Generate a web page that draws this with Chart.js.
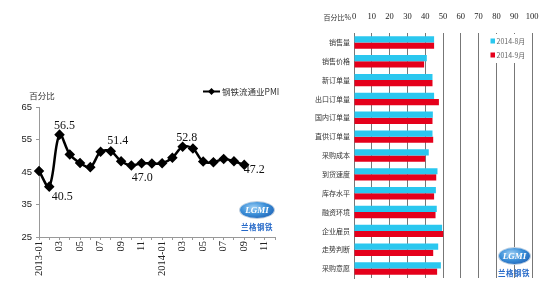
<!DOCTYPE html>
<html><head><meta charset="utf-8">
<script src="https://cdn.jsdelivr.net/npm/chart.js@4.4.1/dist/chart.umd.min.js"></script>
<style>
html,body{margin:0;padding:0;background:#fff;width:550px;height:300px;overflow:hidden;}
#left{position:absolute;left:0;top:0;width:290px;height:300px;}
#right{position:absolute;left:300px;top:0;width:250px;height:300px;}
.oval{position:absolute;border-radius:50%;background:radial-gradient(ellipse at 40% 35%,#9fd0f5 0%,#3b8fd8 45%,#1450a8 100%);color:#fff;font:italic bold 9px "Liberation Serif";text-align:center;box-shadow:0 0 0 1px #bcd;}
.brand{position:absolute;color:#2468c8;font:bold 7.5px "Noto Sans CJK SC";letter-spacing:0.5px;white-space:nowrap;}
</style></head><body>
<div id="left"><canvas id="c1" width="290" height="300"></canvas></div>
<div id="right"><canvas id="c2" width="250" height="300"></canvas></div>
<div class="oval" style="left:240px;top:202px;width:34px;height:16px;line-height:16px;">LGMI</div>
<div class="brand" style="left:241px;top:221px;">兰格钢铁</div>
<div class="oval" style="left:499px;top:248px;width:31px;height:16px;line-height:16px;">LGMI</div>
<div class="brand" style="left:498px;top:267px;">兰格钢铁</div>
<script>
// ---------- Data: left line chart ----------
const months = ['2013-01','2013-02','2013-03','2013-04','2013-05','2013-06','2013-07','2013-08','2013-09','2013-10','2013-11','2013-12',
                '2014-01','2014-02','2014-03','2014-04','2014-05','2014-06','2014-07','2014-08','2014-09','2014-10','2014-11','2014-12'];
const pmiLabel = '钢铁流通业PMI';
const pmiValues = [45.3,40.5,56.5,50.4,47.8,46.5,51.2,51.4,48.3,47.0,47.7,47.6,47.7,49.4,52.8,52.2,48.2,48.0,49.0,48.3,47.2];
const labeledPoints = [1,2,7,9,14,20];
const yTicksLeft = [25,35,45,55,65];
const leftAxisTitle = '百分比';

// ---------- Data: right bar chart ----------
const categories = ['销售量','销售价格','新订单量','出口订单量','国内订单量','直供订单量','采购成本','到货速度','库存水平','融资环境','企业雇员','走势判断','采购意愿'];
const seriesNames = ['2014-8月','2014-9月'];
const augValues = [45.0,40.9,44.1,45.0,44.3,44.1,42.0,46.9,46.0,46.5,49.5,47.3,48.8];
const sepValues = [45.0,39.4,44.1,47.7,44.1,44.5,40.0,46.2,45.0,45.8,50.1,44.5,46.7];
const xTicksRight = [0,10,20,30,40,50,60,70,80,90,100];
const rightAxisTitle = '百分比%';

// ---------- Left chart ----------
const leftDeco = {
  id:'leftDeco',
  afterDatasetsDraw(chart){
    const ctx = chart.ctx, meta = chart.getDatasetMeta(0), ca = chart.chartArea;
    const off = {1:[13,10],2:[5,-9],7:[7,-10],9:[11,12],14:[4,-9],20:[10,5]};
    ctx.save();
    ctx.font = '12px "Liberation Serif"';
    ctx.fillStyle = '#111';
    ctx.textAlign = 'center';
    ctx.textBaseline = 'middle';
    labeledPoints.forEach(i => {
      const p = meta.data[i], o = off[i] || [0,-10];
      ctx.fillText(pmiValues[i].toFixed(1), p.x + o[0], p.y + o[1]);
    });
    // axis title
    ctx.font = '8.5px "Noto Sans CJK SC"';
    ctx.fillStyle = '#333';
    ctx.fillText(leftAxisTitle, ca.left + 3, ca.top - 11);
    // legend
    const lx = ca.left + 164, ly = ca.top - 15.5;
    ctx.strokeStyle = '#000';
    ctx.lineWidth = 2;
    ctx.beginPath(); ctx.moveTo(lx, ly); ctx.lineTo(lx + 17, ly); ctx.stroke();
    ctx.fillStyle = '#000';
    ctx.beginPath();
    ctx.moveTo(lx + 8.5, ly - 3.5); ctx.lineTo(lx + 12, ly); ctx.lineTo(lx + 8.5, ly + 3.5); ctx.lineTo(lx + 5, ly);
    ctx.closePath(); ctx.fill();
    ctx.textAlign = 'left';
    ctx.fillStyle = '#333';
    ctx.font = '8.5px "Noto Sans CJK SC"';
    ctx.fillText(pmiLabel, lx + 19, ly);
    ctx.restore();
  }
};

new Chart(document.getElementById('c1'), {
  type:'line',
  data:{
    labels: months,
    datasets:[{
      label: pmiLabel,
      data: pmiValues,
      borderColor:'#000',
      backgroundColor:'#000',
      borderWidth:2.5,
      tension:0.35,
      pointStyle:'rectRot',
      pointRadius:3.5,
      pointBackgroundColor:'#000',
      pointBorderColor:'#000',
      fill:false
    }]
  },
  options:{
    responsive:false,
    animation:false,
    events:[],
    layout:{padding:{top:107,right:15,left:0,bottom:0}},
    plugins:{legend:{display:false},tooltip:{enabled:false}},
    scales:{
      x:{
        offset:false,
        afterFit:s=>{s.height=63;},
        grid:{drawOnChartArea:false,tickLength:3,color:'#999'},
        border:{display:true,color:'#999'},
        ticks:{
          autoSkip:false,minRotation:90,maxRotation:90,padding:1,
          color:'#222',font:{family:'"Liberation Serif"',size:10.5},
          callback:(v,i)=>{
            if(i%2!==0) return '';
            const m = months[i];
            return m.endsWith('-01') ? m : m.slice(5);
          }
        }
      },
      y:{
        min: yTicksLeft[0], max: yTicksLeft[yTicksLeft.length-1],
        afterFit:s=>{s.width=39;},
        afterBuildTicks:s=>{s.ticks = yTicksLeft.map(v=>({value:v}));},
        grid:{drawOnChartArea:false,tickLength:3,color:'#999'},
        border:{display:true,color:'#999'},
        ticks:{padding:4,color:'#222',font:{family:'"Liberation Sans"',size:9.5}}
      }
    }
  },
  plugins:[leftDeco]
});

// ---------- Right chart ----------
const barColors = ['#2AC7EF','#E5001B'];
const rightDeco = {
  id:'rightDeco',
  afterDatasetsDraw(chart){
    const ctx = chart.ctx, ca = chart.chartArea;
    ctx.save();
    // axis title
    ctx.font = '7px "Noto Sans CJK SC"';
    ctx.fillStyle = '#333';
    ctx.textAlign = 'right';
    ctx.textBaseline = 'middle';
    ctx.fillText(rightAxisTitle, ca.left - 3, 17);
    // legend box
    const bx = ca.right - 45, by = ca.top + 1;
    ctx.fillStyle = '#fff';
    ctx.fillRect(bx, by, 44.5, 29);
    ctx.textAlign = 'left';
    chart.data.datasets.forEach((ds, k) => {
      const y = ca.top + 8 + k * 14;
      ctx.fillStyle = ds.backgroundColor;
      ctx.fillRect(bx + 3.5, y - 2.5, 4.5, 5);
      ctx.fillStyle = '#666';
      ctx.font = '7px "Noto Sans CJK SC"';
      ctx.fillText(ds.label, bx + 9.5, y);
    });
    ctx.restore();
  }
};

new Chart(document.getElementById('c2'), {
  type:'bar',
  data:{
    labels: categories,
    datasets:[
      {label: seriesNames[0], data: augValues, backgroundColor: barColors[0], borderWidth:0},
      {label: seriesNames[1], data: sepValues, backgroundColor: barColors[1], borderWidth:0}
    ]
  },
  options:{
    indexAxis:'y',
    responsive:false,
    animation:false,
    events:[],
    layout:{padding:{top:0,right:18,left:0,bottom:22}},
    plugins:{legend:{display:false},tooltip:{enabled:false}},
    datasets:{bar:{categoryPercentage:0.66,barPercentage:1.0}},
    scales:{
      x:{
        position:'top',
        min: xTicksRight[0], max: xTicksRight[xTicksRight.length-1],
        afterFit:s=>{s.height=33;},
        afterBuildTicks:s=>{s.ticks = xTicksRight.map(v=>({value:v}));},
        grid:{drawTicks:false,color:'#777',lineWidth:1},
        border:{display:false},
        ticks:{autoSkip:false,minRotation:0,maxRotation:0,padding:11,color:'#222',font:{family:'"Liberation Serif"',size:8.5}}
      },
      y:{
        afterFit:s=>{s.width=54;},
        grid:{display:false,drawTicks:false},
        border:{display:true,color:'#777'},
        ticks:{padding:4,color:'#333',font:{family:'"Noto Sans CJK SC"',size:7}}
      }
    }
  },
  plugins:[rightDeco]
});
</script>
</body></html>
